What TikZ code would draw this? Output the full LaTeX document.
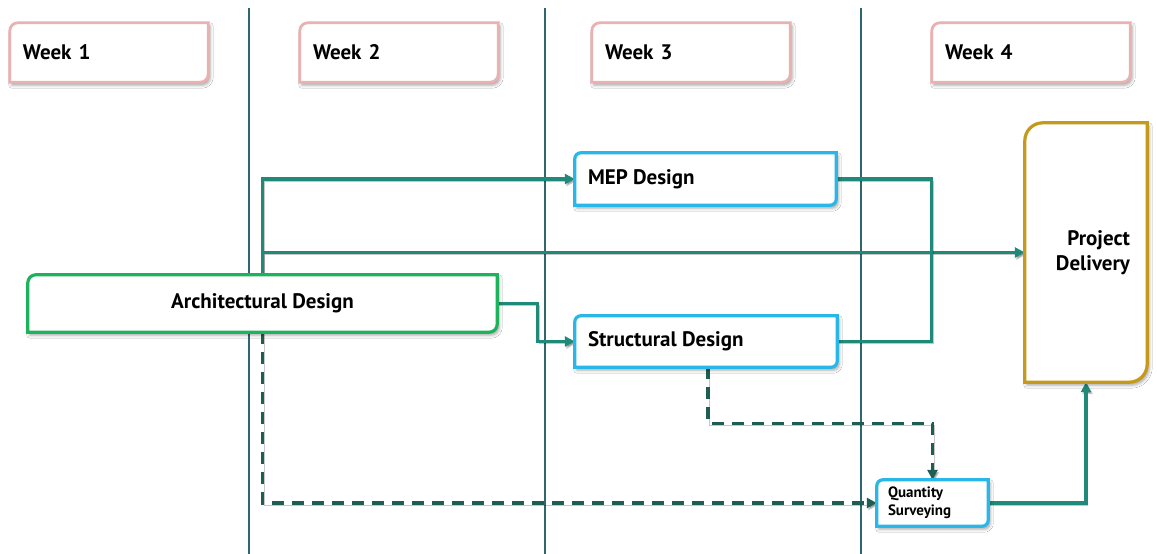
\documentclass[tikz,border=0pt]{standalone}
\usepackage{fontspec}
\setmainfont{PT Sans}
\usetikzlibrary{arrows.meta,shadows.blur,calc}

\definecolor{weekpink}{HTML}{EBB0B0}
\definecolor{archgreen}{HTML}{1DB35C}
\definecolor{taskcyan}{HTML}{29B6E8}
\definecolor{delgold}{HTML}{C59A1A}
\definecolor{flowteal}{HTML}{1F8A79}
\definecolor{dashteal}{HTML}{1E5E52}
\definecolor{laneline}{HTML}{2F6670}

% frame with rounded top-left and bottom-right corners, drawn around a named node
\newcommand\cutframe[3]{% node, style, radius
  \draw[#2] (#1.south west) -- ([yshift=-#3]#1.north west)
    arc[start angle=180, end angle=90, radius=#3] -- (#1.north east)
    -- ([yshift=#3]#1.south east)
    arc[start angle=0, end angle=-90, radius=#3] -- cycle;}

\tikzset{
  frameshadow/.style={blur shadow={shadow xshift=2pt, shadow yshift=-3pt,
      shadow blur radius=3pt, shadow opacity=35}},
  weekframe/.style={draw=weekpink, line width=2.8pt, fill=white, frameshadow},
  archframe/.style={draw=archgreen, line width=3.2pt, fill=white, frameshadow},
  taskframe/.style={draw=taskcyan, line width=3.2pt, fill=white, frameshadow},
  delframe/.style={draw=delgold, line width=3.2pt, fill=white, frameshadow},
  bigtext/.style={font=\bfseries\fontsize{21}{24}\selectfont},
  weeklabel/.style={inner xsep=13pt, inner ysep=0pt, text width=172pt, align=left,
      minimum height=59pt, bigtext},
  tasklabel/.style={inner xsep=13pt, inner ysep=0pt, align=left, bigtext},
  lineshadow/.style={preaction={draw=black, opacity=0.22,
      transform canvas={xshift=1.5pt, yshift=-2pt}}},
  flow/.style={draw=flowteal, line width=3.2pt, lineshadow},
  dflow/.style={draw=dashteal, line width=3.2pt, dash pattern=on 12pt off 8pt, lineshadow},
  tip/.style={-{Triangle[length=10pt,width=10pt]}},
  lane/.style={draw=laneline, line width=1.2pt},
}

\begin{document}
\begin{tikzpicture}[x=1pt,y=1pt]
\useasboundingbox (0,0) rectangle (1157,-554);
\fill[white] (0,0) rectangle (1157,-554);

% week lanes
\coordinate (l1t) at (249,-8);   \coordinate (l1b) at (249,-554);
\coordinate (l2t) at (545,-8);   \coordinate (l2b) at (545,-554);
\coordinate (l3t) at (861,-8);   \coordinate (l3b) at (861,-554);
\draw[lane] (l1t) -- (l1b);
\draw[lane] (l2t) -- (l2b);
\draw[lane] (l3t) -- (l3b);

% week headers
\node[weeklabel] (w1) at (109,-52.5) {};
\node[weeklabel] (w2) at (399,-52.5) {};
\node[weeklabel] (w3) at (691,-52.5) {};
\node[weeklabel] (w4) at (1031,-52.5) {};
\cutframe{w1}{weekframe}{8pt}
\cutframe{w2}{weekframe}{8pt}
\cutframe{w3}{weekframe}{8pt}
\cutframe{w4}{weekframe}{8pt}
\node[weeklabel] at (w1) {Week 1};
\node[weeklabel] at (w2) {Week 2};
\node[weeklabel] at (w3) {Week 3};
\node[weeklabel] at (w4) {Week 4};

% task nodes (empty boxes, labelled after the frames are drawn)
\node[minimum width=469pt, minimum height=57pt, inner sep=0pt] (arch) at (262.5,-303.5) {};
\node[minimum width=261pt, minimum height=52pt, inner sep=0pt] (mep) at (705.5,-179) {};
\node[minimum width=262pt, minimum height=51pt, inner sep=0pt] (struct) at (706,-341.5) {};
\node[minimum width=122pt, minimum height=259pt, inner sep=0pt] (pd) at (1086,-252.5) {};
\node[minimum width=111pt, minimum height=46pt, inner sep=0pt] (qs) at (932.5,-503) {};

% connectors
\draw[flow,tip] (arch.north) |- (mep.west);
\draw[flow,tip] (arch.north) |- (pd.west);
\draw[flow,tip] (arch.east) -- ++(40,0) |- (struct.west);
\draw[flow] (mep.east) -- ++(95,0) |- (struct.east);
\draw[dflow,tip] ([xshift=2pt]struct.south) -- ++(0,-56) -| (qs.north);
\draw[dflow,tip] (arch.south) |- (qs.west);
\draw[flow,tip] (qs.east) -| (pd.south);

% frames
\cutframe{arch}{archframe}{8pt}
\cutframe{mep}{taskframe}{6pt}
\cutframe{struct}{taskframe}{6pt}
\cutframe{pd}{delframe}{18pt}
\cutframe{qs}{taskframe}{6pt}

% labels
\node[bigtext] at (arch) {Architectural Design};
\node[tasklabel, anchor=west] at (mep.west) {MEP Design};
\node[tasklabel, anchor=west] at (struct.west) {Structural Design};
\node[anchor=east, inner xsep=17pt, align=right,
      font=\bfseries\fontsize{21}{25}\selectfont] at (pd.east) {Project\\Delivery};
\node[anchor=west, inner xsep=11pt, align=left,
      font=\bfseries\fontsize{15}{18}\selectfont] at (qs.west) {Quantity\\Surveying};
\end{tikzpicture}
\end{document}
